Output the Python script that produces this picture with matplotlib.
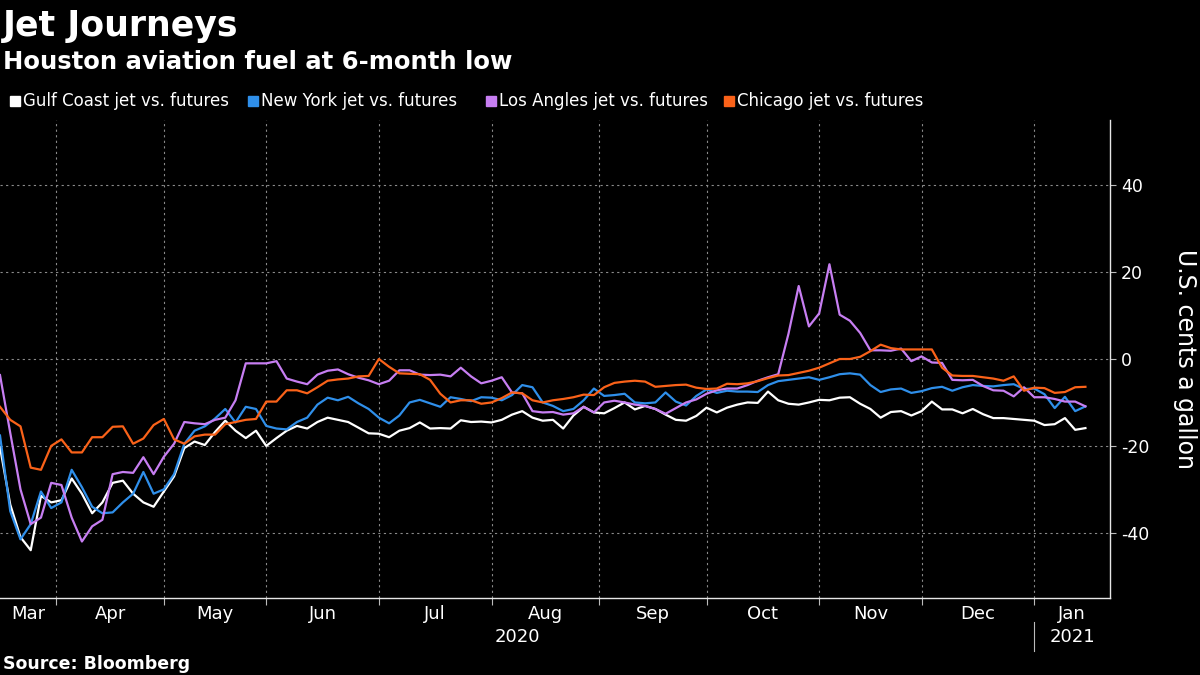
import numpy as np
import pandas as pd
import matplotlib
matplotlib.use('Agg')
import matplotlib.pyplot as plt
import matplotlib.transforms as mtransforms
from matplotlib.patches import Rectangle
from matplotlib.lines import Line2D

plt.rcParams['font.family'] = ['DejaVu Sans']
plt.rcParams['axes.unicode_minus'] = False

# trading days of the chart, values read every second trading day
holidays = ['2020-04-10', '2020-05-25', '2020-07-03', '2020-09-07',
            '2020-11-26', '2020-12-25', '2021-01-01', '2021-01-18']
days = pd.bdate_range('2020-03-17', '2021-01-19', freq='C', holidays=holidays)
pos = np.arange(len(days))[::2]

# U.S. cents a gallon vs. futures
gulf_coast = [-20.3, -33.5, -41, -44, -31.5, -33, -32.5, -27.5, -31, -35.5,
              -33, -28.5, -28, -31, -33, -34, -30.5, -27, -20.5, -19,
              -19.8, -16.8, -14.2, -16.5, -18.2, -16.5, -20, -18.2, -16.5, -15.4,
              -16, -14.5, -13.5, -14, -14.5, -15.8, -17.1, -17.2, -18, -16.5,
              -15.9, -14.6, -16, -15.9, -16, -14.1, -14.5, -14.4, -14.6, -14,
              -12.8, -12, -13.5, -14.2, -14, -16, -13, -11, -12.3, -12.5,
              -11.3, -10, -11.6, -10.8, -11.5, -12.8, -14, -14.2, -13.1, -11.2,
              -12.3, -11.2, -10.5, -10, -10.1, -7.5, -9.5, -10.3, -10.5, -10,
              -9.4, -9.5, -8.9, -8.8, -10.3, -11.5, -13.5, -12.2, -12, -13,
              -12, -9.8, -11.6, -11.6, -12.5, -11.5, -12.7, -13.6, -13.6, -13.8,
              -14, -14.2, -15.2, -15, -13.6, -16.3, -15.9]
new_york = [-17.6, -35, -41.5, -38, -30.5, -34.3, -33, -25.5, -29.5, -34,
            -35.5, -35.3, -33, -31, -26, -31, -30, -26.5, -19.5, -16.5,
            -15.5, -13.7, -11.5, -14.6, -11, -11.5, -15.4, -16, -16.2, -14.5,
            -13.5, -10.5, -8.9, -9.5, -8.7, -10.2, -11.5, -13.5, -14.8, -13,
            -10, -9.4, -10.2, -11, -8.8, -9.2, -9.7, -8.8, -8.9, -9.5,
            -8.3, -6, -6.5, -10, -10.8, -12, -11.5, -9.5, -6.8, -8.5,
            -8.3, -8, -10, -10.2, -10, -7.7, -9.8, -10.7, -8.5, -7,
            -7.8, -7.3, -7.5, -7.5, -7.6, -6, -5.1, -4.8, -4.5, -4.2,
            -4.8, -4.2, -3.5, -3.3, -3.6, -6, -7.6, -7, -6.8, -7.8,
            -7.4, -6.7, -6.4, -7.3, -6.5, -6, -6.2, -6.3, -6, -5.8,
            -6.9, -6.8, -8.1, -11.3, -8.7, -12, -10.9]
los_angeles = [-3.7, -17, -30, -38, -36.5, -28.5, -29, -36.5, -42, -38.5,
               -37, -26.5, -26, -26.2, -22.6, -26.5, -22.5, -19.5, -14.5, -14.8,
               -15, -14, -13.5, -9.5, -1, -1, -1, -0.5, -4.5, -5.2,
               -5.8, -3.6, -2.7, -2.4, -3.5, -4.3, -4.9, -5.8, -5, -2.6,
               -2.6, -3.6, -3.7, -3.6, -4, -2, -4, -5.6, -5, -4.2,
               -7.7, -7.9, -12, -12.3, -12.2, -12.8, -12.5, -11, -12.3, -10,
               -9.6, -10, -10.5, -10.8, -11.5, -12.6, -11.3, -10, -9.3, -8,
               -7.2, -6.8, -6.8, -6, -5, -4.2, -3.5, 5.8, 16.8, 7.5,
               10.5, 21.8, 10.2, 8.8, 6, 2, 2, 1.9, 2.4, -0.5,
               0.6, -0.8, -0.9, -4.8, -4.9, -4.8, -6.2, -7.2, -7.3, -8.6,
               -6.5, -8.8, -8.8, -9.2, -9.8, -9.8, -10.9]
chicago = [-11, -14, -15.5, -25, -25.5, -20, -18.5, -21.5, -21.5, -18,
           -18, -15.6, -15.5, -19.5, -18.3, -15.2, -13.8, -18.5, -19.5, -17.8,
           -17.4, -17.4, -15, -14.5, -14, -13.8, -9.8, -9.8, -7.2, -7.2,
           -7.9, -6.5, -5, -4.7, -4.5, -4, -3.9, 0, -1.8, -3.3,
           -3.4, -3.5, -4.8, -8, -10, -9.5, -9.5, -10.3, -10, -9,
           -7.7, -7.9, -9.5, -10, -9.5, -9.2, -8.8, -8.2, -8.3, -6.5,
           -5.5, -5.2, -5, -5.2, -6.4, -6.2, -6, -5.9, -6.6, -6.9,
           -6.8, -5.7, -5.8, -5.6, -5.1, -4.4, -3.8, -3.7, -3.2, -2.7,
           -2, -1, 0, 0, 0.5, 1.8, 3.3, 2.5, 2.2, 2.2,
           2.2, 2.2, -2, -3.8, -3.9, -3.9, -4.2, -4.5, -5, -4,
           -7.3, -6.6, -6.7, -7.8, -7.6, -6.5, -6.4]

labels = ['Gulf Coast jet vs. futures', 'New York jet vs. futures',
          'Los Angles jet vs. futures', 'Chicago jet vs. futures']
colors = ['#ffffff', '#2f8fea', '#c77ef2', '#fa6219']
values = [gulf_coast, new_york, los_angeles, chicago]
y_ticks = [-40, -20, 0, 20, 40]

W, H = 1200, 675
fig = plt.figure(figsize=(12, 6.75), dpi=100, facecolor='black')
ax = fig.add_axes([0, 1 - 598 / H, 1110 / W, (598 - 120) / H])
ax.set_facecolor('black')

for vals, col in zip(values, colors):
    ax.plot(pos, vals, color=col, lw=1.6, solid_joinstyle='round')

xmax = 216.8
ax.set_xlim(0, xmax)
ax.set_ylim(-55, 55)

# month boundaries and centred month names
starts = [i for i in range(1, len(days)) if days[i].month != days[i - 1].month]
edges = [0] + starts + [xmax]
centers = [(a + b) / 2 for a, b in zip(edges[:-1], edges[1:])]
names = [days[0].strftime('%b')] + [days[i].strftime('%b') for i in starts]

ax.set_xticks(starts)
ax.set_xticklabels([])
ax.set_xticks(centers, minor=True)
ax.set_xticklabels(names, minor=True)
ax.tick_params(axis='x', which='major', length=5, width=0.8, color='#bbbbbb')
ax.tick_params(axis='x', which='minor', length=0, pad=5, labelsize=13, labelcolor='white')

ax.yaxis.tick_right()
ax.set_yticks(y_ticks)
ax.set_yticklabels([str(v) for v in y_ticks])
ax.tick_params(axis='y', length=4, width=0.8, color='#bbbbbb', pad=4,
               labelsize=12.5, labelcolor='white')

ax.grid(axis='x', which='major', color='#8a8a8a', lw=0.8, ls=(0, (2, 3)))
ax.grid(axis='y', color='#8a8a8a', lw=0.8, ls=(0, (2, 3)))
for side in ['top', 'left']:
    ax.spines[side].set_visible(False)
for side in ['bottom', 'right']:
    ax.spines[side].set_color('#e6e6e6')
    ax.spines[side].set_linewidth(1)

# year labels under the months
blend = mtransforms.blended_transform_factory(ax.transData, fig.transFigure)
jan = starts[-1]
ax.text(jan / 2, 1 - 637 / H, '2020', transform=blend, ha='center', va='center',
        fontsize=13, color='white', clip_on=False)
ax.text((jan + xmax) / 2, 1 - 637 / H, '2021', transform=blend, ha='center', va='center',
        fontsize=13, color='white', clip_on=False)
ax.add_line(Line2D([jan, jan], [1 - 622 / H, 1 - 651 / H], transform=blend,
                   color='#bbbbbb', lw=0.8, clip_on=False))

fig.text(1185 / W, 1 - 359 / H, 'U.S. cents a gallon', rotation=270, ha='center',
         va='center', fontsize=17, color='white')

# titles
fig.text(3 / W, 1 - 36 / H, 'Jet Journeys', fontsize=25, weight='bold',
         color='white', va='baseline')
fig.text(3 / W, 1 - 69 / H, 'Houston aviation fuel at 6-month low', fontsize=17.5,
         weight='bold', color='white', va='baseline')
fig.text(3 / W, 1 - 669 / H, 'Source: Bloomberg', fontsize=12.5, weight='bold',
         color='white', va='baseline')

# legend
for i, (lab, col) in enumerate(zip(labels, colors)):
    x0 = 10 + 238 * i
    fig.patches.append(Rectangle((x0 / W, 1 - 106 / H), 10 / W, 10 / H,
                                 transform=fig.transFigure, color=col))
    fig.text((x0 + 13) / W, 1 - 101 / H, lab, fontsize=12, color='white', va='center')

fig.savefig('out.png', dpi=100, facecolor='black')
